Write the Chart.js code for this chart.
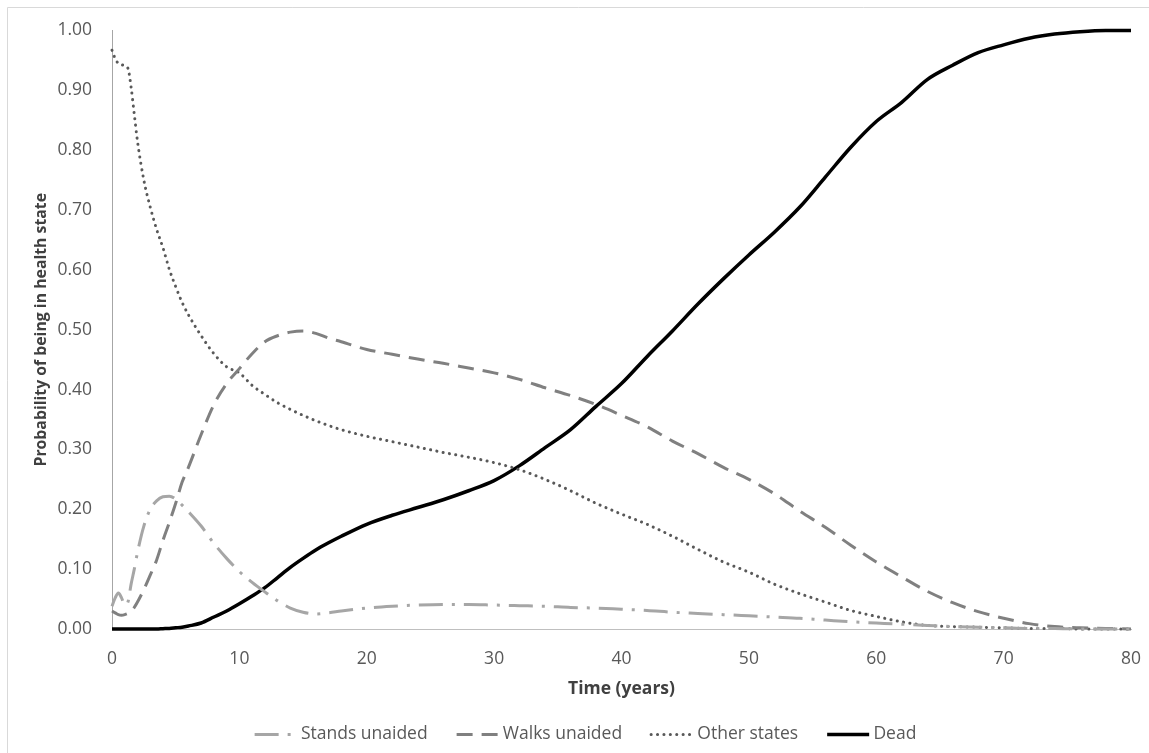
<!DOCTYPE html>
<html>
<head>
<meta charset="utf-8">
<script src="https://cdn.jsdelivr.net/npm/chart.js@4"></script>
<style>
  html, body { margin: 0; padding: 0; background: #ffffff; }
  #wrap { width: 1149px; height: 753px; position: relative; }
</style>
</head>
<body>
<div id="wrap"><canvas id="chart" width="1149" height="753"></canvas></div>
<script>
// Time points (years) shared by every series
const years = [0, 0.25, 0.5, 0.75, 1, 1.25, 1.5, 1.75, 2, 2.5, 3, 3.5, 4, 4.5, 5, 5.5, 6, 7, 8, 9,
  10, 11, 12, 13, 14, 15, 16, 17, 18, 20, 22, 24, 26, 28, 30, 32, 34, 36, 38, 40,
  42, 44, 46, 48, 50, 52, 54, 56, 58, 60, 62, 64, 66, 68, 70, 72, 74, 76, 78, 80];

// Probability of being in each health state
const standsUnaided = [0.038, 0.052, 0.060, 0.052, 0.040, 0.045, 0.075, 0.100, 0.128, 0.172, 0.200, 0.214, 0.221, 0.222, 0.217, 0.207, 0.196, 0.172, 0.143, 0.118,
  0.096, 0.078, 0.062, 0.047, 0.035, 0.028, 0.025, 0.027, 0.030, 0.035, 0.038, 0.040, 0.041, 0.041, 0.040, 0.039, 0.038, 0.036, 0.035, 0.033,
  0.031, 0.028, 0.026, 0.024, 0.022, 0.020, 0.018, 0.015, 0.012, 0.010, 0.008, 0.006, 0.004, 0.003, 0.002, 0.001, 0.001, 0.000, 0.000, 0.000];

const walksUnaided = [0.030, 0.027, 0.024, 0.023, 0.024, 0.026, 0.030, 0.036, 0.045, 0.066, 0.090, 0.115, 0.148, 0.178, 0.210, 0.245, 0.270, 0.325, 0.375, 0.410,
  0.435, 0.460, 0.480, 0.490, 0.496, 0.498, 0.494, 0.486, 0.480, 0.467, 0.459, 0.451, 0.444, 0.436, 0.428, 0.417, 0.403, 0.390, 0.375, 0.357,
  0.338, 0.314, 0.293, 0.270, 0.250, 0.226, 0.197, 0.170, 0.140, 0.112, 0.087, 0.063, 0.044, 0.029, 0.018, 0.009, 0.004, 0.002, 0.001, 0.000];

const otherStates = [0.967, 0.953, 0.945, 0.943, 0.941, 0.937, 0.905, 0.860, 0.815, 0.750, 0.705, 0.668, 0.637, 0.601, 0.572, 0.546, 0.525, 0.490, 0.460, 0.438,
  0.428, 0.407, 0.392, 0.378, 0.367, 0.357, 0.348, 0.340, 0.333, 0.322, 0.313, 0.304, 0.295, 0.287, 0.278, 0.266, 0.250, 0.231, 0.210, 0.192,
  0.175, 0.155, 0.133, 0.112, 0.095, 0.075, 0.059, 0.045, 0.031, 0.021, 0.012, 0.006, 0.004, 0.003, 0.002, 0.001, 0.001, 0.000, 0.000, 0.000];

const dead = [0.000, 0.000, 0.000, 0.000, 0.000, 0.000, 0.000, 0.000, 0.000, 0.000, 0.000, 0.000, 0.0005, 0.001, 0.002, 0.003, 0.005, 0.010, 0.020, 0.030,
  0.042, 0.055, 0.069, 0.086, 0.103, 0.118, 0.132, 0.144, 0.155, 0.175, 0.190, 0.203, 0.216, 0.231, 0.248, 0.273, 0.303, 0.333, 0.372, 0.410,
  0.455, 0.498, 0.543, 0.585, 0.625, 0.663, 0.705, 0.755, 0.805, 0.848, 0.880, 0.918, 0.942, 0.963, 0.976, 0.987, 0.994, 0.998, 1.000, 1.000];

const seriesNames = ['Stands unaided', 'Walks unaided', 'Other states', 'Dead'];
const xTitle = 'Time (years)';
const yTitle = 'Probability of being in health state';

const FONT = "'Open Sans', Lato, 'Liberation Sans', sans-serif";
const SAMPLE_LEN = 42;   // length of the line sample in each legend entry

const toPoints = vals => vals.map((v, i) => ({ x: years[i], y: v }));

// Thin frame along the top and left edge of the figure
const framePlugin = {
  id: 'frame',
  beforeDraw(chart) {
    const ctx = chart.ctx;
    ctx.save();
    ctx.fillStyle = '#ffffff';
    ctx.fillRect(0, 0, chart.width, chart.height);
    ctx.strokeStyle = '#d9d9d9';
    ctx.lineWidth = 1;
    ctx.beginPath();
    ctx.moveTo(7.5, chart.height);
    ctx.lineTo(7.5, 7.5);
    ctx.lineTo(chart.width, 7.5);
    ctx.stroke();
    ctx.restore();
  }
};

// Legend samples drawn as styled line segments (dash pattern of each series)
const legendLinesPlugin = {
  id: 'legendLines',
  afterDraw(chart) {
    const legend = chart.legend;
    if (!legend || !legend.legendHitBoxes) return;
    const ctx = chart.ctx;
    legend.legendHitBoxes.forEach((box, i) => {
      const ds = chart.data.datasets[i];
      const y = Math.round(box.top + box.height / 2) + 0.5;
      ctx.save();
      ctx.strokeStyle = ds.borderColor;
      ctx.lineWidth = ds.borderWidth;
      ctx.lineCap = ds.borderCapStyle || 'butt';
      ctx.setLineDash(ds.borderDash || []);
      ctx.beginPath();
      ctx.moveTo(box.left, y);
      ctx.lineTo(box.left + SAMPLE_LEN, y);
      ctx.stroke();
      ctx.restore();
    });
  }
};

const baseLine = {
  pointRadius: 0,
  pointHoverRadius: 0,
  fill: false,
  cubicInterpolationMode: 'monotone',
  clip: false
};

new Chart(document.getElementById('chart'), {
  type: 'line',
  data: {
    datasets: [
      Object.assign({}, baseLine, {
        label: seriesNames[0],
        data: toPoints(standsUnaided),
        borderColor: '#a6a6a6',
        backgroundColor: '#a6a6a6',
        borderWidth: 3,
        borderDash: [24, 9, 3, 9]
      }),
      Object.assign({}, baseLine, {
        label: seriesNames[1],
        data: toPoints(walksUnaided),
        borderColor: '#808080',
        backgroundColor: '#808080',
        borderWidth: 3,
        borderDash: [16, 9]
      }),
      Object.assign({}, baseLine, {
        label: seriesNames[2],
        data: toPoints(otherStates),
        borderColor: '#595959',
        backgroundColor: '#595959',
        borderWidth: 3,
        borderCapStyle: 'round',
        borderDash: [0.1, 6.3]
      }),
      Object.assign({}, baseLine, {
        label: seriesNames[3],
        data: toPoints(dead),
        borderColor: '#000000',
        backgroundColor: '#000000',
        borderWidth: 3.5
      })
    ]
  },
  options: {
    responsive: false,
    animation: false,
    devicePixelRatio: 1,
    layout: { padding: { left: 32, right: 10, top: 29, bottom: 0 } },
    plugins: {
      tooltip: { enabled: false },
      legend: {
        position: 'bottom',
        labels: {
          boxWidth: 37.5,
          boxHeight: 4,
          padding: 29,
          color: '#595959',
          font: { family: FONT, size: 17.5 },
          generateLabels(chart) {
            const items = Chart.defaults.plugins.legend.labels.generateLabels(chart);
            items.forEach(it => {
              it.fillStyle = 'rgba(0,0,0,0)';
              it.strokeStyle = 'rgba(0,0,0,0)';
              it.lineWidth = 0;
            });
            return items;
          }
        }
      }
    },
    scales: {
      x: {
        type: 'linear',
        min: 0,
        max: 80,
        grid: { display: false, drawTicks: false },
        border: { display: true, color: '#bfbfbf', width: 1 },
        ticks: {
          stepSize: 10,
          padding: 20,
          color: '#595959',
          font: { family: FONT, size: 17.5 },
          maxRotation: 0
        },
        title: {
          display: true,
          text: xTitle,
          color: '#404040',
          padding: { top: 0, bottom: -3 },
          font: { family: FONT, size: 17.5, weight: 'bold' }
        },
        afterFit(scale) {
          scale.height = 67.5;
          scale.paddingLeft = 0;
          scale.paddingRight = 18;
        }
      },
      y: {
        min: 0,
        max: 1,
        grid: { display: false, drawTicks: false },
        border: { display: true, color: '#a6a6a6', width: 1 },
        ticks: {
          stepSize: 0.1,
          padding: 20,
          color: '#595959',
          font: { family: FONT, size: 17.5 },
          callback: v => Number(v).toFixed(2)
        },
        title: {
          display: true,
          text: yTitle,
          color: '#404040',
          padding: { top: 0, bottom: 0 },
          font: { family: FONT, size: 15.8, weight: 'bold' }
        },
        afterFit(scale) { scale.width = 80; }
      }
    }
  },
  plugins: [framePlugin, legendLinesPlugin]
});
</script>
</body>
</html>
